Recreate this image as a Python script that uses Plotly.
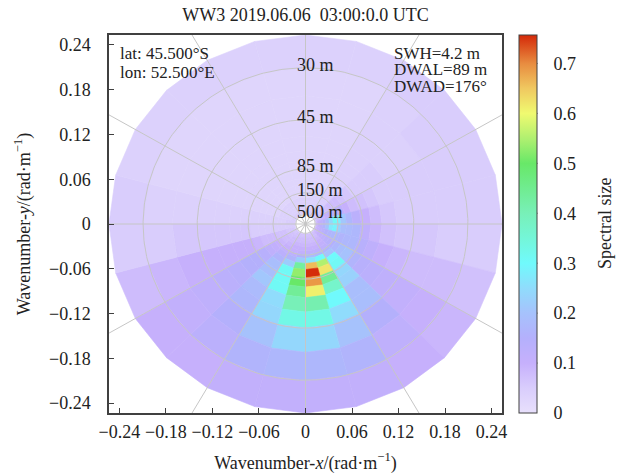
import numpy as np
import plotly.graph_objects as go
from plotly.colors import sample_colorscale

# ---------------- data ----------------
TITLE = "WW3 2019.06.06\u00a0 03:00:0.0 UTC"
INFO_LEFT = ["lat: 45.500°S", "lon: 52.500°E"]
INFO_RIGHT = ["SWH=4.2 m", "DWAL=89 m", "DWAD=176°"]
CB_TITLE = "Spectral size"

# wavenumber bin edges (rad/m), inner -> outer
K_EDGES = [0.0135, 0.0160, 0.0190, 0.0225, 0.0265, 0.0310, 0.0360, 0.0410,
           0.0460, 0.0530, 0.0610, 0.0720, 0.0845, 0.0987, 0.1180, 0.1390,
           0.1720, 0.2100, 0.2534]
# direction bins: 24 sectors of 15 deg, clockwise from +y
DIR_EDGES = list(range(0, 361, 15))

# spectral density per (wavenumber ring, direction sector)
SPEC = [
    [0.05, 0.05, 0.05, 0.06, 0.07, 0.08, 0.09, 0.09, 0.08, 0.07, 0.07, 0.07, 0.07, 0.07, 0.06, 0.06, 0.05, 0.05, 0.05, 0.05, 0.05, 0.05, 0.05, 0.05],
    [0.05, 0.05, 0.05, 0.06, 0.08, 0.10, 0.11, 0.10, 0.09, 0.08, 0.07, 0.07, 0.07, 0.07, 0.07, 0.06, 0.06, 0.05, 0.05, 0.05, 0.05, 0.05, 0.05, 0.05],
    [0.04, 0.04, 0.05, 0.06, 0.08, 0.12, 0.13, 0.12, 0.10, 0.08, 0.08, 0.08, 0.08, 0.08, 0.07, 0.07, 0.06, 0.05, 0.05, 0.04, 0.04, 0.04, 0.04, 0.04],
    [0.04, 0.04, 0.05, 0.06, 0.09, 0.14, 0.16, 0.13, 0.11, 0.09, 0.08, 0.08, 0.08, 0.08, 0.08, 0.07, 0.06, 0.05, 0.05, 0.04, 0.04, 0.04, 0.04, 0.04],
    [0.04, 0.04, 0.05, 0.07, 0.10, 0.18, 0.20, 0.15, 0.12, 0.10, 0.09, 0.09, 0.09, 0.09, 0.08, 0.08, 0.07, 0.05, 0.04, 0.04, 0.04, 0.04, 0.04, 0.04],
    [0.04, 0.04, 0.05, 0.07, 0.12, 0.24, 0.27, 0.16, 0.13, 0.11, 0.10, 0.10, 0.10, 0.10, 0.09, 0.08, 0.07, 0.05, 0.04, 0.04, 0.04, 0.04, 0.04, 0.04],
    [0.03, 0.04, 0.05, 0.08, 0.14, 0.31, 0.29, 0.17, 0.14, 0.12, 0.12, 0.12, 0.11, 0.10, 0.10, 0.09, 0.07, 0.05, 0.04, 0.03, 0.03, 0.03, 0.03, 0.03],
    [0.03, 0.03, 0.05, 0.08, 0.14, 0.28, 0.23, 0.17, 0.15, 0.16, 0.17, 0.18, 0.15, 0.12, 0.11, 0.10, 0.08, 0.05, 0.04, 0.03, 0.03, 0.03, 0.03, 0.03],
    [0.03, 0.03, 0.05, 0.08, 0.12, 0.21, 0.19, 0.16, 0.17, 0.20, 0.30, 0.26, 0.22, 0.16, 0.13, 0.11, 0.08, 0.05, 0.04, 0.03, 0.03, 0.03, 0.03, 0.03],
    [0.03, 0.03, 0.04, 0.07, 0.10, 0.17, 0.18, 0.17, 0.19, 0.30, 0.55, 0.66, 0.43, 0.22, 0.16, 0.12, 0.08, 0.05, 0.04, 0.03, 0.03, 0.03, 0.03, 0.03],
    [0.03, 0.03, 0.04, 0.06, 0.08, 0.13, 0.17, 0.17, 0.20, 0.31, 0.62, 0.755, 0.53, 0.31, 0.19, 0.14, 0.09, 0.05, 0.04, 0.03, 0.03, 0.03, 0.03, 0.03],
    [0.03, 0.03, 0.04, 0.05, 0.07, 0.10, 0.12, 0.14, 0.16, 0.24, 0.44, 0.69, 0.50, 0.31, 0.19, 0.15, 0.10, 0.06, 0.04, 0.03, 0.03, 0.03, 0.03, 0.03],
    [0.03, 0.03, 0.04, 0.05, 0.06, 0.08, 0.09, 0.12, 0.14, 0.23, 0.37, 0.61, 0.44, 0.31, 0.21, 0.15, 0.10, 0.06, 0.04, 0.03, 0.03, 0.03, 0.03, 0.03],
    [0.03, 0.03, 0.04, 0.05, 0.05, 0.06, 0.07, 0.10, 0.13, 0.19, 0.30, 0.41, 0.40, 0.25, 0.18, 0.14, 0.10, 0.06, 0.04, 0.03, 0.03, 0.03, 0.03, 0.03],
    [0.03, 0.03, 0.04, 0.04, 0.05, 0.05, 0.06, 0.09, 0.12, 0.19, 0.25, 0.33, 0.33, 0.24, 0.17, 0.13, 0.10, 0.06, 0.04, 0.03, 0.03, 0.03, 0.03, 0.03],
    [0.03, 0.03, 0.04, 0.04, 0.05, 0.05, 0.06, 0.08, 0.11, 0.15, 0.20, 0.24, 0.24, 0.20, 0.15, 0.12, 0.10, 0.06, 0.04, 0.03, 0.03, 0.03, 0.03, 0.03],
    [0.03, 0.03, 0.04, 0.05, 0.05, 0.05, 0.05, 0.08, 0.10, 0.12, 0.16, 0.17, 0.17, 0.16, 0.13, 0.11, 0.09, 0.05, 0.04, 0.03, 0.03, 0.03, 0.03, 0.03],
    [0.04, 0.04, 0.05, 0.05, 0.05, 0.05, 0.05, 0.07, 0.09, 0.10, 0.11, 0.11, 0.11, 0.11, 0.10, 0.10, 0.08, 0.05, 0.05, 0.04, 0.04, 0.04, 0.04, 0.04],
]

# reference wavelength circles (m) and radial guide directions (deg)
RING_LENGTHS = [30, 45, 85, 150, 500]
SPOKE_ANGLES = list(range(0, 360, 30))

AXIS_TICKS = [-0.24, -0.18, -0.12, -0.06, 0, 0.06, 0.12, 0.18, 0.24]
CB_TICKS = [0, 0.1, 0.2, 0.3, 0.4, 0.5, 0.6, 0.7]
CMIN, CMAX = 0.0, 0.757

# colour ramp (value, colour)
COLOR_VALUES = [0.0, 0.05, 0.10, 0.15, 0.20, 0.25, 0.30, 0.35, 0.40, 0.45,
                0.50, 0.55, 0.60, 0.65, 0.70, 0.757]
COLOR_HEX = ["#e8e0fc", "#d9cdfc", "#c6b0fc", "#b4b0fc", "#a6c2fc", "#90dcfc",
             "#70fafc", "#74f6d8", "#78f0b8", "#70ec90", "#68e868", "#b0f070",
             "#f0fa70", "#f0c860", "#e88c40", "#d42808"]

# ---------------- styling ----------------
FONT = "Liberation Serif, Times New Roman, serif"
FS = 18
FS_INFO = 17
TXT = "#222222"
FRAME = "#404040"
GUIDE = "#c6c6c6"

colorscale = [[(v - CMIN) / (CMAX - CMIN), c] for v, c in zip(COLOR_VALUES, COLOR_HEX)]
colorscale[-1][0] = 1.0

k_edges = np.array(K_EDGES)
d_edges = np.radians(DIR_EDGES)
spec = np.array(SPEC)
r_max = k_edges[-1]

fig = go.Figure()

# spectral cells as filled quadrilaterals
for i in range(len(k_edges) - 1):
    k0, k1 = k_edges[i], k_edges[i + 1]
    for j in range(len(d_edges) - 1):
        t0, t1 = d_edges[j], d_edges[j + 1]
        ks = [k0, k1, k1, k0, k0]
        ts = [t0, t0, t1, t1, t0]
        xs = [k * np.sin(t) for k, t in zip(ks, ts)]
        ys = [k * np.cos(t) for k, t in zip(ks, ts)]
        col = sample_colorscale(colorscale, [(spec[i, j] - CMIN) / (CMAX - CMIN)])[0]
        fig.add_trace(go.Scatter(
            x=xs, y=ys, mode="lines", fill="toself", fillcolor=col,
            line=dict(color=col, width=0.6), hoverinfo="skip", showlegend=False))

# radial guide lines
for a in SPOKE_ANGLES:
    t = np.radians(a)
    fig.add_trace(go.Scatter(
        x=[0, 0.6 * np.sin(t)], y=[0, 0.6 * np.cos(t)], mode="lines",
        line=dict(color=GUIDE, width=1), hoverinfo="skip", showlegend=False))

# wavelength circles
phi = np.linspace(0, 2 * np.pi, 361)
for L in RING_LENGTHS:
    k = 2 * np.pi / L
    fig.add_trace(go.Scatter(
        x=k * np.sin(phi), y=k * np.cos(phi), mode="lines",
        line=dict(color=GUIDE, width=1), hoverinfo="skip", showlegend=False))
    fig.add_annotation(x=-0.014, y=k, xref="x", yref="y", text=f"{L} m",
                       showarrow=False, xanchor="left", yanchor="middle", yshift=3,
                       font=dict(family=FONT, size=FS, color=TXT))

# colour bar carrier
CB_X = 1.0445
CB_THICK = 18
fig.add_trace(go.Scatter(
    x=[0], y=[0], mode="markers", hoverinfo="skip", showlegend=False,
    marker=dict(size=1, opacity=0, color=[0], colorscale=colorscale,
                cmin=CMIN, cmax=CMAX, showscale=True,
                colorbar=dict(
                    x=CB_X, xanchor="left", y=0.5, yanchor="middle",
                    len=1, lenmode="fraction", thickness=CB_THICK,
                    xpad=0, ypad=0, outlinecolor=FRAME, outlinewidth=1,
                    tickvals=CB_TICKS, ticks="outside", ticklen=13,
                    tickcolor="rgba(0,0,0,0)",
                    tickfont=dict(family=FONT, size=FS, color=TXT)))))

# short inward tick marks on the colour bar's right edge
plot_w = 621 - 109 - 119
bar_right = CB_X + CB_THICK / plot_w
for v in CB_TICKS[1:]:
    yy = (v - CMIN) / (CMAX - CMIN)
    fig.add_shape(type="line", xref="paper", yref="paper",
                  x0=bar_right - 5 / plot_w, x1=bar_right, y0=yy, y1=yy,
                  line=dict(color=FRAME, width=1))

fig.add_annotation(x=(605 - 109) / plot_w, y=0.5, xref="paper", yref="paper",
                   text=CB_TITLE, textangle=-90, showarrow=False,
                   xanchor="center", yanchor="middle",
                   font=dict(family=FONT, size=FS, color=TXT))

# info text
for n, s in enumerate(INFO_LEFT):
    fig.add_annotation(x=0.022, y=0.95 - n * 0.05, xref="paper", yref="paper",
                       text=s, showarrow=False, xanchor="left", yanchor="middle",
                       font=dict(family=FONT, size=FS_INFO, color=TXT))
for n, s in enumerate(INFO_RIGHT):
    fig.add_annotation(x=0.72, y=0.952 - n * 0.0437, xref="paper", yref="paper",
                       text=s, showarrow=False, xanchor="left", yanchor="middle",
                       font=dict(family=FONT, size=FS_INFO, color=TXT))

axis_common = dict(
    range=[-r_max, r_max], tickvals=AXIS_TICKS, ticks="inside", ticklen=5,
    tickwidth=1, tickcolor=FRAME, showline=True, mirror=True, linecolor=FRAME,
    linewidth=1.5, showgrid=False, zeroline=False, automargin=False,
    tickfont=dict(family=FONT, size=FS, color=TXT))

fig.update_layout(
    width=621, height=475,
    margin=dict(l=109, r=119, t=35, b=62),
    paper_bgcolor="white", plot_bgcolor="white",
    title=dict(text=TITLE, x=0.5, xref="paper", y=1 - 15 / 475, yref="container",
               yanchor="middle", xanchor="center",
               font=dict(family=FONT, size=FS, color=TXT)),
    xaxis=dict(axis_common, ticklabelstandoff=2,
               title=dict(text="Wavenumber-<i>x</i>/(rad·m<sup>−1</sup>)",
                          font=dict(family=FONT, size=FS, color=TXT), standoff=15)),
    yaxis=dict(axis_common, ticklabelstandoff=13,
               title=dict(text="Wavenumber-<i>y</i>/(rad·m<sup>−1</sup>)",
                          font=dict(family=FONT, size=FS, color=TXT), standoff=14)),
)

fig.write_html("out.html")
